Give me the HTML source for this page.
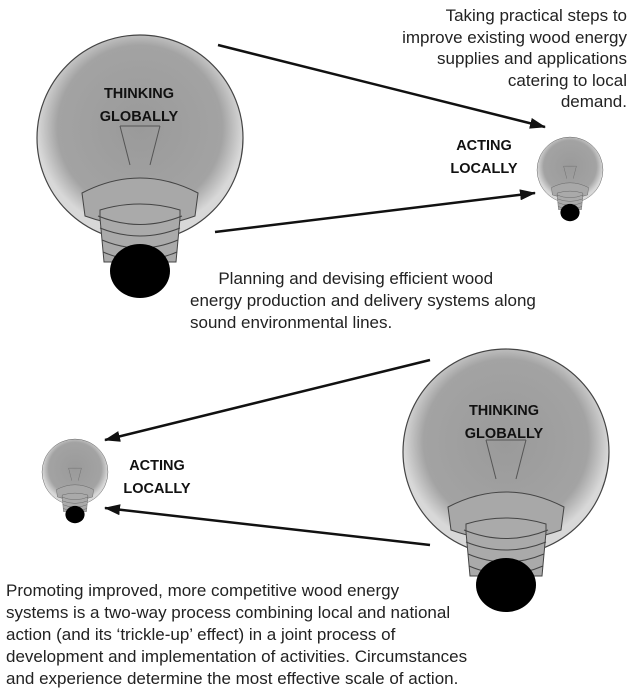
<!DOCTYPE html>
<html><head><meta charset="utf-8"><style>
body{margin:0;background:#fff;width:637px;height:697px;overflow:hidden;position:relative;font-family:"Liberation Sans",sans-serif;color:#222}
.t{position:absolute;font-size:17px;line-height:21.5px;white-space:nowrap}
</style></head><body>
<svg width="637" height="697" style="position:absolute;left:0;top:0">
<defs>
<radialGradient id="g" cx="50%" cy="45%" r="50%">
<stop offset="0" stop-color="#9a9a9a"/><stop offset="0.8" stop-color="#a3a3a3"/><stop offset="1" stop-color="#d8d8d8"/></radialGradient>
<marker id="a" markerWidth="16" markerHeight="11" refX="15" refY="5.5" orient="auto" markerUnits="userSpaceOnUse"><path d="M0,0 L16,5.5 L0,11 Z" fill="#111"/></marker>
<g id="bulb">
<circle cx="0" cy="0" r="103" fill="url(#g)" stroke="#444" stroke-width="1.2"/>
<path d="M-20,-12 L-10,27 M20,-12 L10,27 M-20,-12 L20,-12" stroke="#555" fill="none"/>
<path d="M-58,55 Q0,25 58,55 L55,78 Q0,98 -55,78 Z" fill="#a8a8a8" stroke="#444"/>
<path d="M-40,72 Q0,60 40,72 L40,80 L36,124 L-36,124 L-40,80 Z" fill="#aaa" stroke="#444"/>
<path d="M-42,78 Q0,95 42,78 M-40,90 Q0,106 40,90 M-38,102 Q0,118 38,102 M-37,114 Q0,130 37,114" stroke="#444" fill="none"/>
<ellipse cx="0" cy="133" rx="30" ry="27" fill="#000"/>
</g>
</defs>
<use href="#bulb" transform="translate(140,138)"/>
<use href="#bulb" transform="translate(506,452)"/>
<use href="#bulb" transform="translate(570,170) scale(0.32)"/>
<use href="#bulb" transform="translate(75,472) scale(0.32)"/>
<g stroke="#111" stroke-width="2.5" fill="none">
<line x1="218" y1="45" x2="545" y2="127" marker-end="url(#a)"/>
<line x1="215" y1="232" x2="535" y2="193" marker-end="url(#a)"/>
<line x1="430" y1="360" x2="105" y2="440" marker-end="url(#a)"/>
<line x1="430" y1="545" x2="105" y2="508" marker-end="url(#a)"/>
</g>
<g font-family="Liberation Sans,sans-serif" font-weight="bold" font-size="14.5" fill="#111" text-anchor="middle">
<text x="139" y="98">THINKING</text><text x="139" y="121">GLOBALLY</text>
<text x="504" y="415">THINKING</text><text x="504" y="438">GLOBALLY</text>
<text x="484" y="150">ACTING</text><text x="484" y="173">LOCALLY</text>
<text x="157" y="470">ACTING</text><text x="157" y="493">LOCALLY</text>
</g>
</svg>
<div class="t" style="right:10px;top:5px;text-align:right">Taking practical steps to<br>improve existing wood energy<br>supplies and applications<br>catering to local<br>demand.</div>
<div class="t" style="left:190px;top:268px;line-height:22px">&nbsp;&nbsp;&nbsp;&nbsp;&nbsp;&nbsp;Planning and devising efficient wood<br>energy production and delivery systems along<br>sound environmental lines.</div>
<div class="t" style="left:6px;top:580px;line-height:22px">Promoting improved, more competitive wood energy<br>systems is a two-way process combining local and national<br>action (and its ‘trickle-up’ effect) in a joint process of<br>development and implementation of activities. Circumstances<br>and experience determine the most effective scale of action.</div>
</body></html>
